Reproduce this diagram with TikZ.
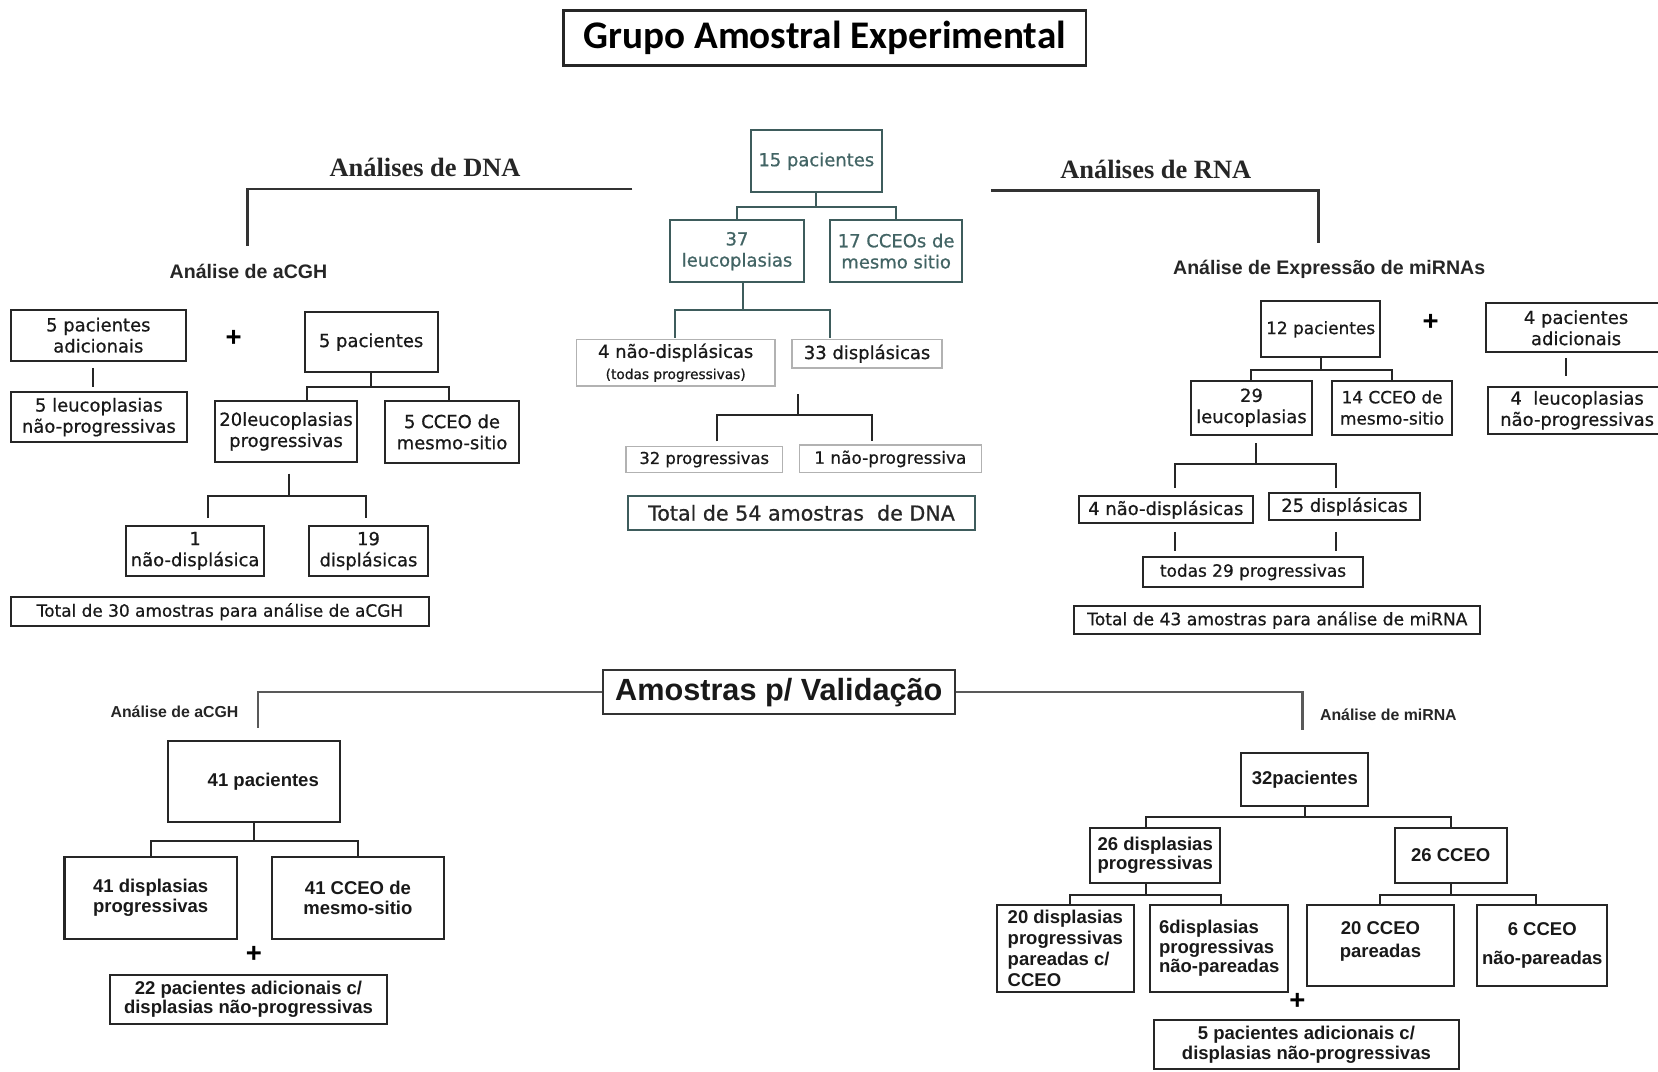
\documentclass[tikz,border=0pt]{standalone}
\usepackage{fontspec}
\setmainfont{DejaVu Sans}
\newfontfamily\dvs{DejaVu Sans}[FakeBold=0.7]
\newfontfamily\lsans{Liberation Sans}
\newfontfamily\lserif{Liberation Serif}
\newfontfamily\carl{Carlito}
\definecolor{tealc}{RGB}{62,92,92}
\definecolor{tealt}{RGB}{66,100,100}
\newcommand{\bx}[7]{\node[#6, minimum width={(#4-#2)*1pt}, minimum height={(#5-#3)*1pt}] (#1) at ({(#2+#4)/2},{(#3+#5)/2}) {#7};}
\tikzset{
  conn/.style={line width=1.9pt, draw=black!85},
  tconn/.style={line width=1.9pt, draw=tealc},
  bracket/.style={line width=2.2pt, draw=black!80},
  vline/.style={line width=2.6pt, draw=black!65},
  bbox/.style={draw=black!85, line width=1.9pt, inner sep=0pt, align=center, text=black!90,
    font={\dvs\fontsize{17}{20}\selectfont}},
  tbox/.style={bbox, draw=tealc, text=tealt},
  gbox/.style={bbox, draw=black!30, line width=1.3pt},
  vbox/.style={bbox, font={\lsans\bfseries\fontsize{17.5}{18.5}\selectfont}},
  lbl/.style={inner sep=0pt, text=black!85, font={\lsans\bfseries\fontsize{18.5}{20}\selectfont}},
  slbl/.style={inner sep=0pt, text=black!85, font={\lsans\bfseries\fontsize{15}{17}\selectfont}},
  plus/.style={inner sep=0pt, text=black, font={\lsans\bfseries\fontsize{26}{26}\selectfont}},
  head/.style={inner sep=0pt, text=black!85, font={\lserif\bfseries\fontsize{25}{28}\selectfont}},
  titlebox/.style={draw=black!85, line width=2.2pt, inner sep=0pt, text=black,
    font={\carl\bfseries\fontsize{37}{40}\selectfont}},
  valbox/.style={draw=black!80, line width=2pt, inner sep=0pt, text=black!90,
    font={\lsans\bfseries\fontsize{29}{32}\selectfont}},
}
\begin{document}
\begin{tikzpicture}[x=1pt,y=-1pt]
\fill[white] (0,0) rectangle (1568,1013);
\useasboundingbox (0,0) rectangle (1568,1013);

% title
\bx{title}{533}{10}{1027}{62}{titlebox}{Grupo Amostral Experimental}

% headings and brackets
\node[head] (hdna) at (402,158) {Análises de DNA};
\node[head] (hrna) at (1093,160) {Análises de RNA};
\coordinate (dnaR) at (598,179);
\coordinate (dnaL) at (234,233);
\draw[bracket] (dnaR) -| (dnaL);
\coordinate (rnaL) at (937,180);
\coordinate (rnaR) at (1247,230);
\draw[bracket] (rnaL) -| (rnaR);
\node[lbl] (lacgh) at (235,257) {Análise de aCGH};
\node[lbl] (lmirna) at (1257,255) {Análise de Expressão de miRNAs};

% ---- DNA / aCGH ----
\bx{adic5}{10}{293}{176}{341}{bbox}{5 pacientes\\adicionais}
\node[plus] (plA) at (221,320) {+};
\bx{p5}{288}{295}{414}{352}{bbox}{5 pacientes}
\bx{leu5}{10}{371}{177}{418}{bbox}{5 leucoplasias\\não-progressivas}
\draw[conn] ([xshift=-5pt,yshift=-6pt]adic5.south) -- ([xshift=-5.5pt,yshift=4pt]leu5.north);
\bx{leu20}{203}{379}{338}{437}{bbox}{20leucoplasias\\progressivas}
\bx{cceo5}{364}{379}{491}{438}{bbox}{5 CCEO de\\mesmo-sitio}
\draw[conn] (p5.south) -- ++(0,13) coordinate (p5m);
\draw[conn] ([xshift=19.5pt]leu20.north) |- (p5m) -| ([xshift=-2.5pt]cceo5.north);
\bx{nd1}{119}{497}{250}{545}{bbox}{1\\não-displásica}
\bx{d19}{292}{497}{405}{545}{bbox}{19\\displásicas}
\draw[conn] ([xshift=2.5pt,yshift=-10pt]leu20.south) -- ++(0,21) coordinate (l20m);
\draw[conn] ([xshift=12.5pt,yshift=6pt]nd1.north) |- (l20m) -| ([xshift=-2.5pt,yshift=6pt]d19.north);
\bx{tot30}{10}{565}{406}{592}{bbox, font={\dvs\fontsize{16}{19}\selectfont}}{Total de 30 amostras para análise de aCGH}

% ---- centre ----
\bx{p15}{710}{123}{834}{182}{tbox}{15 pacientes}
\bx{l37}{634}{208}{760}{267}{tbox}{37\\leucoplasias}
\bx{c17}{785}{208}{910}{267}{tbox}{17 CCEOs de\\mesmo sitio}
\draw[tconn] (p15.south) -- ++(0,13) coordinate (p15m);
\draw[tconn] (l37.north) |- (p15m) -| (c17.north);
\bx{nd4}{545}{321}{733}{365}{gbox}{4 não-displásicas\\{\fontsize{13}{15}\selectfont (todas progressivas)}}
\bx{d33}{749}{321}{891}{348}{gbox}{33 displásicas}
\draw[tconn] ([xshift=6pt]l37.south) -- ++(0,25) coordinate (l37m);
\draw[tconn] ([xshift=-1pt,yshift=1pt]nd4.north) |- (l37m) -| ([xshift=-35pt,yshift=1pt]d33.north);
\coordinate (j33) at (755,373);
\bx{p32}{592}{422}{740}{447}{gbox, font={\dvs\fontsize{15.5}{18}\selectfont}}{32 progressivas}
\bx{np1}{756}{421}{928}{447}{gbox, font={\dvs\fontsize{16}{18}\selectfont}}{1 não-progressiva}
\draw[conn] (j33) -- ++(0,19) coordinate (j33m);
\draw[conn] ([xshift=12pt,yshift=4pt]p32.north) |- (j33m) -| ([xshift=-17pt,yshift=3pt]np1.north);
\bx{tot54}{594}{469}{922}{501}{tbox, text=black!85, font={\dvs\fontsize{19.5}{22}\selectfont}}{Total de 54 amostras \ de DNA}

% ---- RNA / miRNA ----
\bx{p12}{1193}{285}{1305}{338}{bbox, font={\dvs\fontsize{16}{19}\selectfont}}{12 pacientes}
\node[plus] (plB) at (1353,305) {+};
\bx{adic4}{1405}{287}{1576}{333}{bbox}{4 pacientes\\adicionais}
\bx{leu4}{1407}{366}{1576}{410}{bbox}{4 \ leucoplasias\\não-progressivas}
\draw[conn] ([xshift=-9.5pt,yshift=-5pt]adic4.south) -- ([xshift=-10.5pt,yshift=9pt]leu4.north);
\bx{l29}{1126}{360}{1241}{411}{bbox}{29\\leucoplasias}
\bx{c14}{1260}{360}{1373}{411}{bbox, font={\dvs\fontsize{16}{20}\selectfont}}{14 CCEO de\\mesmo-sitio}
\draw[conn] (p12.south) -- ++(0,11) coordinate (p12m);
\draw[conn] (l29.north) |- (p12m) -| (c14.north);
\bx{nd4r}{1020}{469}{1185}{495}{bbox}{4 não-displásicas}
\bx{d25}{1200}{466}{1343}{492}{bbox}{25 displásicas}
\draw[conn] ([xshift=4.5pt,yshift=-7pt]l29.south) -- ++(0,20) coordinate (l29m);
\draw[conn] ([xshift=8.5pt,yshift=7pt]nd4r.north) |- (l29m) -| ([xshift=-8.5pt,yshift=4pt]d25.north);
\bx{t29}{1081}{527}{1289}{555}{bbox, font={\dvs\fontsize{16}{19}\selectfont}}{todas 29 progressivas}
\draw[conn] ([xshift=8.5pt,yshift=-7pt]nd4r.south) -- ([xshift=-74pt,yshift=5pt]t29.north);
\draw[conn] ([xshift=-8.5pt,yshift=-10pt]d25.south) -- ([xshift=78pt,yshift=5pt]t29.north);
\bx{tot43}{1016}{573}{1400}{600}{bbox, font={\dvs\fontsize{16.2}{19}\selectfont}}{Total de 43 amostras para análise de miRNA}

% ---- validation ----
\bx{val}{570}{634}{903}{675}{valbox}{Amostras p/ Validação}
\coordinate (vL) at (244,688);
\coordinate (vR) at (1232,690);
\draw[vline] (val.west) -| (vL);
\draw[vline] (val.east) -| (vR);
\node[slbl] (bacgh) at (165,673) {Análise de aCGH};
\node[slbl] (bmirna) at (1313,676) {Análise de miRNA};

% bottom left
\bx{p41}{159}{701}{322}{777}{vbox}{\hspace*{17pt}41 pacientes}
\bx{d41}{61}{810}{224}{888}{vbox}{41 displasias\\progressivas}
\bx{c41}{257}{810}{420}{888}{vbox}{41 CCEO de\\mesmo-sitio}
\draw[conn] (p41.south) -- ++(0,17) coordinate (p41m);
\draw[conn] (d41.north) |- (p41m) -| (c41.north);
\node[plus] (plC) at (240,903) {+};
\bx{p22}{104}{922}{366}{968}{vbox}{22 pacientes adicionais c/\\displasias não-progressivas}

% bottom right
\bx{p32r}{1174}{712}{1294}{762}{vbox}{32pacientes}
\bx{d26}{1031}{783}{1154}{835}{vbox}{26 displasias\\progressivas}
\bx{c26}{1319}{783}{1425}{835}{vbox}{26 CCEO}
\draw[conn] (p32r.south) -- ++(0,10) coordinate (p32m);
\draw[conn] ([xshift=-8.5pt]d26.north) |- (p32m) -| (c26.north);
\bx{d20}{943}{856}{1072}{938}{vbox, align=left, font={\lsans\bfseries\fontsize{17.5}{20}\selectfont}}{20 displasias\\progressivas\\pareadas c/\\CCEO}
\bx{d6}{1088}{856}{1218}{938}{vbox, align=left}{6displasias\\progressivas\\não-pareadas}
\bx{c20}{1236}{856}{1375}{932}{vbox, font={\lsans\bfseries\fontsize{17.5}{21}\selectfont}}{20 CCEO\\pareadas\\[-10pt]}
\bx{c6}{1397}{856}{1520}{932}{vbox, font={\lsans\bfseries\fontsize{17.5}{27}\selectfont}}{6 CCEO\\não-pareadas}
\draw[conn] ([xshift=-8.5pt]d26.south) -- ++(0,10) coordinate (d26m);
\draw[conn] ([xshift=4.5pt]d20.north) |- (d26m) -| ([xshift=2pt]d6.north);
\draw[conn] (c26.south) -- ++(0,10) coordinate (c26m);
\draw[conn] (c20.north) |- (c26m) -| ([xshift=-5.5pt]c6.north);
\node[plus] (plD) at (1227,947) {+};
\bx{p5r}{1091}{965}{1380}{1011}{vbox}{5 pacientes adicionais c/\\displasias não-progressivas}
\end{tikzpicture}
\end{document}
